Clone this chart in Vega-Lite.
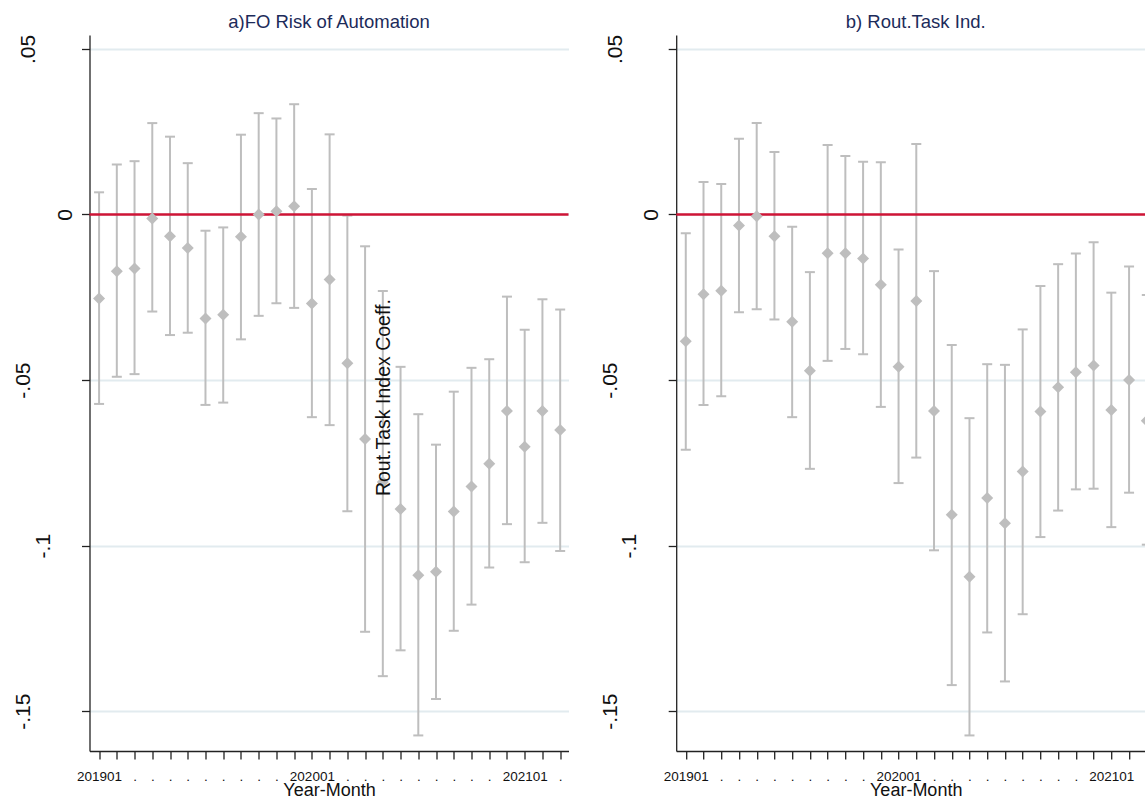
{
  "$schema": "https://vega.github.io/schema/vega-lite/v6.json",
  "padding": {"left": 12.5, "top": 12, "right": 0, "bottom": -2},
  "bounds": "flush",
  "spacing": 107.7,
  "config": {"view": {"stroke": null}, "font": "Liberation Sans"},
  "datasets": {
    "est": [
      {"panel": "a", "m": 1, "b": -0.0254, "lo": -0.0572, "hi": 0.0067},
      {"panel": "a", "m": 2, "b": -0.0171, "lo": -0.049, "hi": 0.0151},
      {"panel": "a", "m": 3, "b": -0.0163, "lo": -0.0482, "hi": 0.0161},
      {"panel": "a", "m": 4, "b": -0.0012, "lo": -0.0293, "hi": 0.0276},
      {"panel": "a", "m": 5, "b": -0.0066, "lo": -0.0364, "hi": 0.0235},
      {"panel": "a", "m": 6, "b": -0.0101, "lo": -0.0357, "hi": 0.0155},
      {"panel": "a", "m": 7, "b": -0.0314, "lo": -0.0575, "hi": -0.0049},
      {"panel": "a", "m": 8, "b": -0.0303, "lo": -0.0568, "hi": -0.0039},
      {"panel": "a", "m": 9, "b": -0.0067, "lo": -0.0377, "hi": 0.0241},
      {"panel": "a", "m": 10, "b": 0.0, "lo": -0.0306, "hi": 0.0306},
      {"panel": "a", "m": 11, "b": 0.001, "lo": -0.0268, "hi": 0.029},
      {"panel": "a", "m": 12, "b": 0.0025, "lo": -0.0282, "hi": 0.0333},
      {"panel": "a", "m": 13, "b": -0.0269, "lo": -0.0612, "hi": 0.0077},
      {"panel": "a", "m": 14, "b": -0.0196, "lo": -0.0636, "hi": 0.0242},
      {"panel": "a", "m": 15, "b": -0.0449, "lo": -0.0896, "hi": -0.0003},
      {"panel": "a", "m": 16, "b": -0.0678, "lo": -0.126, "hi": -0.0096},
      {"panel": "a", "m": 17, "b": -0.0808, "lo": -0.1394, "hi": -0.0231},
      {"panel": "a", "m": 18, "b": -0.0889, "lo": -0.1316, "hi": -0.046},
      {"panel": "a", "m": 19, "b": -0.1089, "lo": -0.1573, "hi": -0.0603},
      {"panel": "a", "m": 20, "b": -0.1079, "lo": -0.1463, "hi": -0.0695},
      {"panel": "a", "m": 21, "b": -0.0897, "lo": -0.1257, "hi": -0.0535},
      {"panel": "a", "m": 22, "b": -0.0821, "lo": -0.1178, "hi": -0.0463},
      {"panel": "a", "m": 23, "b": -0.0753, "lo": -0.1066, "hi": -0.0437},
      {"panel": "a", "m": 24, "b": -0.0593, "lo": -0.0935, "hi": -0.0248},
      {"panel": "a", "m": 25, "b": -0.0701, "lo": -0.105, "hi": -0.0348},
      {"panel": "a", "m": 26, "b": -0.0593, "lo": -0.0931, "hi": -0.0256},
      {"panel": "a", "m": 27, "b": -0.0651, "lo": -0.1016, "hi": -0.0287},
      {"panel": "b", "m": 1, "b": -0.0383, "lo": -0.071, "hi": -0.0057},
      {"panel": "b", "m": 2, "b": -0.0241, "lo": -0.0575, "hi": 0.0098},
      {"panel": "b", "m": 3, "b": -0.023, "lo": -0.0549, "hi": 0.0092},
      {"panel": "b", "m": 4, "b": -0.0033, "lo": -0.0295, "hi": 0.0229},
      {"panel": "b", "m": 5, "b": -0.0005, "lo": -0.0286, "hi": 0.0276},
      {"panel": "b", "m": 6, "b": -0.0066, "lo": -0.0317, "hi": 0.0189},
      {"panel": "b", "m": 7, "b": -0.0324, "lo": -0.0612, "hi": -0.0037},
      {"panel": "b", "m": 8, "b": -0.0472, "lo": -0.0768, "hi": -0.0174},
      {"panel": "b", "m": 9, "b": -0.0117, "lo": -0.0442, "hi": 0.021},
      {"panel": "b", "m": 10, "b": -0.0117, "lo": -0.0406, "hi": 0.0177},
      {"panel": "b", "m": 11, "b": -0.0133, "lo": -0.0422, "hi": 0.0159},
      {"panel": "b", "m": 12, "b": -0.0212, "lo": -0.0581, "hi": 0.0158},
      {"panel": "b", "m": 13, "b": -0.046, "lo": -0.0811, "hi": -0.0106},
      {"panel": "b", "m": 14, "b": -0.0261, "lo": -0.0734, "hi": 0.0213},
      {"panel": "b", "m": 15, "b": -0.0593, "lo": -0.1014, "hi": -0.0171},
      {"panel": "b", "m": 16, "b": -0.0907, "lo": -0.1421, "hi": -0.0394},
      {"panel": "b", "m": 17, "b": -0.1094, "lo": -0.1573, "hi": -0.0615},
      {"panel": "b", "m": 18, "b": -0.0856, "lo": -0.1262, "hi": -0.0452},
      {"panel": "b", "m": 19, "b": -0.0932, "lo": -0.141, "hi": -0.0454},
      {"panel": "b", "m": 20, "b": -0.0776, "lo": -0.1207, "hi": -0.0347},
      {"panel": "b", "m": 21, "b": -0.0595, "lo": -0.0974, "hi": -0.0216},
      {"panel": "b", "m": 22, "b": -0.0522, "lo": -0.0894, "hi": -0.015},
      {"panel": "b", "m": 23, "b": -0.0476, "lo": -0.083, "hi": -0.0118},
      {"panel": "b", "m": 24, "b": -0.0456, "lo": -0.0828, "hi": -0.0084},
      {"panel": "b", "m": 25, "b": -0.059, "lo": -0.0944, "hi": -0.0236},
      {"panel": "b", "m": 26, "b": -0.05, "lo": -0.084, "hi": -0.0157},
      {"panel": "b", "m": 27, "b": -0.0623, "lo": -0.0997, "hi": -0.0243}
    ],
    "note": [{"txt": "Rout.Task Index Coeff.", "m": 17.41, "v": -0.0553}],
    "zero": [{"z": 0}]
  },
  "hconcat": [
    {
      "width": 479,
      "height": 716,
      "title": {"text": "a)FO Risk of Automation", "fontSize": 18.5, "fontWeight": "normal", "color": "#1c2b5a", "baseline": "alphabetic", "offset": -12, "anchor": "middle"},
      "layer": [
        {
          "data": {"name": "est"},
          "transform": [{"filter": "datum.panel == 'a'"}],
          "mark": {"type": "rule", "color": "#bebebe", "strokeWidth": 2},
          "encoding": {
            "x": {"field": "m", "type": "quantitative", "scale": {"domain": [0.46, 27.47], "nice": false, "zero": false},
              "axis": {"values": [1,2,3,4,5,6,7,8,9,10,11,12,13,14,15,16,17,18,19,20,21,22,23,24,25,26,27], "tickCount": 40,
                "labelExpr": "datum.value == 1 ? '201901' : datum.value == 13 ? '202001' : datum.value == 25 ? '202101' : '.'",
                "grid": false, "tickSize": 8, "tickColor": "#222222", "tickWidth": 1.3, "domainColor": "#222222", "domainWidth": 1.3,
                "labelFontSize": 13.5, "labelPadding": 10.5, "labelAngle": 0, "labelColor": "#111111", "labelOverlap": false, "labelFlush": false,
                "title": "Year-Month", "titleFontSize": 18, "titleFontWeight": "normal", "titleColor": "#111111", "titleBaseline": "alphabetic", "titleY": 44.5}},
            "y": {"field": "lo", "type": "quantitative", "scale": {"domain": [-0.162, 0.0542], "nice": false, "zero": false},
              "axis": {"values": [-0.15, -0.1, -0.05, 0, 0.05], "tickCount": 10,
                "labelExpr": "datum.value == 0 ? '0' : datum.value > 0.04 ? '.05' : datum.value > -0.07 ? '-.05' : datum.value > -0.12 ? '-.1' : '-.15'",
                "labelAngle": 270, "labelAlign": "center", "labelBaseline": "alphabetic", "labelFontSize": 21, "labelColor": "#111111",
                "labelPadding": {"condition": [{"test": "datum.value == 0", "value": 10.5}, {"test": "datum.value > 0.04", "value": 47}, {"test": "datum.value > -0.12 && datum.value < -0.08", "value": 32.5}], "value": 52},
                "tickSize": 8, "tickColor": "#222222", "tickWidth": 1.3, "domainColor": "#222222", "domainWidth": 1.3,
                "grid": true, "gridColor": "#e2ebef", "gridWidth": 2, "title": null}},
            "y2": {"field": "hi"}
          }
        },
        {
          "data": {"name": "est"},
          "transform": [{"filter": "datum.panel == 'a'"}],
          "mark": {"type": "tick", "orient": "horizontal", "color": "#bebebe", "size": 10, "thickness": 2, "opacity": 1},
          "encoding": {"x": {"field": "m", "type": "quantitative"}, "y": {"field": "hi", "type": "quantitative"}}
        },
        {
          "data": {"name": "est"},
          "transform": [{"filter": "datum.panel == 'a'"}],
          "mark": {"type": "tick", "orient": "horizontal", "color": "#bebebe", "size": 10, "thickness": 2, "opacity": 1},
          "encoding": {"x": {"field": "m", "type": "quantitative"}, "y": {"field": "lo", "type": "quantitative"}}
        },
        {
          "data": {"name": "zero"},
          "mark": {"type": "rule", "color": "#cf1436", "strokeWidth": 2.5},
          "encoding": {"y": {"field": "z", "type": "quantitative"}}
        },
        {
          "data": {"name": "est"},
          "transform": [{"filter": "datum.panel == 'a'"}],
          "mark": {"type": "point", "shape": "diamond", "filled": true, "size": 144, "color": "#bebebe", "opacity": 1},
          "encoding": {"x": {"field": "m", "type": "quantitative"}, "y": {"field": "b", "type": "quantitative"}}
        },
        {
          "data": {"name": "note"},
          "mark": {"type": "text", "angle": 270, "align": "center", "baseline": "alphabetic", "fontSize": 19.5, "color": "#111111"},
          "encoding": {"x": {"field": "m", "type": "quantitative"}, "y": {"field": "v", "type": "quantitative"}, "text": {"field": "txt"}}
        }
      ]
    },
    {
      "width": 469,
      "height": 716,
      "title": {"text": "b) Rout.Task Ind.", "fontSize": 18.5, "fontWeight": "normal", "color": "#1c2b5a", "baseline": "alphabetic", "offset": -12, "anchor": "middle", "dx": 5},
      "layer": [
        {
          "data": {"name": "est"},
          "transform": [{"filter": "datum.panel == 'b'"}],
          "mark": {"type": "rule", "color": "#bebebe", "strokeWidth": 2, "clip": true},
          "encoding": {
            "x": {"field": "m", "type": "quantitative", "scale": {"domain": [0.46, 26.91], "nice": false, "zero": false},
              "axis": {"values": [1,2,3,4,5,6,7,8,9,10,11,12,13,14,15,16,17,18,19,20,21,22,23,24,25,26], "tickCount": 40,
                "labelExpr": "datum.value == 1 ? '201901' : datum.value == 13 ? '202001' : datum.value == 25 ? '202101' : '.'",
                "grid": false, "tickSize": 8, "tickColor": "#222222", "tickWidth": 1.3, "domainColor": "#222222", "domainWidth": 1.3,
                "labelFontSize": 13.5, "labelPadding": 10.5, "labelAngle": 0, "labelColor": "#111111", "labelOverlap": false, "labelFlush": false,
                "title": "Year-Month", "titleFontSize": 18, "titleFontWeight": "normal", "titleColor": "#111111", "titleBaseline": "alphabetic", "titleY": 44.5, "titleX": 239.5}},
            "y": {"field": "lo", "type": "quantitative", "scale": {"domain": [-0.162, 0.0542], "nice": false, "zero": false},
              "axis": {"values": [-0.15, -0.1, -0.05, 0, 0.05], "tickCount": 10,
                "labelExpr": "datum.value == 0 ? '0' : datum.value > 0.04 ? '.05' : datum.value > -0.07 ? '-.05' : datum.value > -0.12 ? '-.1' : '-.15'",
                "labelAngle": 270, "labelAlign": "center", "labelBaseline": "alphabetic", "labelFontSize": 21, "labelColor": "#111111",
                "labelPadding": {"condition": [{"test": "datum.value == 0", "value": 10.5}, {"test": "datum.value > 0.04", "value": 47}, {"test": "datum.value > -0.12 && datum.value < -0.08", "value": 32.5}], "value": 52},
                "tickSize": 8, "tickColor": "#222222", "tickWidth": 1.3, "domainColor": "#222222", "domainWidth": 1.3,
                "grid": true, "gridColor": "#e2ebef", "gridWidth": 2, "title": null}},
            "y2": {"field": "hi"}
          }
        },
        {
          "data": {"name": "est"},
          "transform": [{"filter": "datum.panel == 'b'"}],
          "mark": {"type": "tick", "orient": "horizontal", "color": "#bebebe", "size": 10, "thickness": 2, "opacity": 1, "clip": true},
          "encoding": {"x": {"field": "m", "type": "quantitative"}, "y": {"field": "hi", "type": "quantitative"}}
        },
        {
          "data": {"name": "est"},
          "transform": [{"filter": "datum.panel == 'b'"}],
          "mark": {"type": "tick", "orient": "horizontal", "color": "#bebebe", "size": 10, "thickness": 2, "opacity": 1, "clip": true},
          "encoding": {"x": {"field": "m", "type": "quantitative"}, "y": {"field": "lo", "type": "quantitative"}}
        },
        {
          "data": {"name": "zero"},
          "mark": {"type": "rule", "color": "#cf1436", "strokeWidth": 2.5},
          "encoding": {"y": {"field": "z", "type": "quantitative"}}
        },
        {
          "data": {"name": "est"},
          "transform": [{"filter": "datum.panel == 'b'"}],
          "mark": {"type": "point", "shape": "diamond", "filled": true, "size": 144, "color": "#bebebe", "opacity": 1, "clip": true},
          "encoding": {"x": {"field": "m", "type": "quantitative"}, "y": {"field": "b", "type": "quantitative"}}
        }
      ]
    }
  ]
}
